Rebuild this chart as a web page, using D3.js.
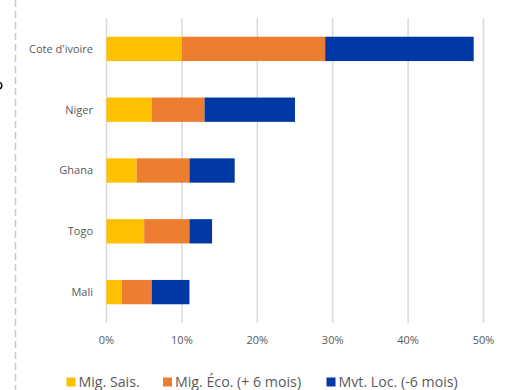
<!DOCTYPE html>
<html><head><meta charset="utf-8">
<script src="https://cdn.jsdelivr.net/npm/d3@7"></script>
<style>body{margin:0;background:#fff;} svg{display:block;font-family:"Open Sans",sans-serif;}</style>
</head><body><svg id="c" width="513" height="390"></svg>
<script>
const categories = ["Cote d'ivoire","Niger","Ghana","Togo","Mali"];
const seriesNames = ["Mig. Sais.","Mig. Éco. (+ 6 mois)","Mvt. Loc. (-6 mois)"];
const migSais = [10, 6, 4, 5, 2];
const migEco = [19, 7, 7, 6, 4];
const mvtLoc = [19.7, 12, 6, 3, 5];
const tickValues = [0, 0.1, 0.2, 0.3, 0.4, 0.5];
const colors = ["#FFC000","#ED7D31","#0039A6"];

const svg = d3.select("#c");
const x = d3.scaleLinear().domain([0, 50]).range([106.5, 483.5]);
const y = d3.scaleBand().domain(categories).range([18.5, 322.5]).paddingInner(0.6).paddingOuter(0.3);

// left dashed border
svg.append("line").attr("x1",15.5).attr("x2",15.5).attr("y1",0).attr("y2",390)
  .attr("stroke","#c8c8c8").attr("stroke-width",1.5).attr("stroke-dasharray","7,4");
// fragment of a cut-off glyph at the left edge
svg.append("ellipse").attr("cx",-1).attr("cy",85.5).attr("rx",2.8).attr("ry",3.2)
  .attr("fill","none").attr("stroke","#000").attr("stroke-width",1.4);

// gridlines
svg.append("g").selectAll("line").data(tickValues).join("line")
  .attr("x1",d=>x(d*100)).attr("x2",d=>x(d*100)).attr("y1",18).attr("y2",323)
  .attr("stroke","#d9d9d9").attr("stroke-width",1.5);

// bars
const data = categories.map((c,i)=>({cat:c, v:[migSais[i], migEco[i], mvtLoc[i]]}));
const stack = d3.stack().keys([0,1,2]).value((d,k)=>d.v[k])(data);
svg.append("g").selectAll("g").data(stack).join("g").attr("fill",(d,i)=>colors[i])
  .selectAll("rect").data(d=>d).join("rect")
  .attr("x",d=>x(d[0])).attr("width",d=>x(d[1])-x(d[0]))
  .attr("y",d=>y(d.data.cat)).attr("height",y.bandwidth());

// category labels
svg.append("g").selectAll("text").data(categories).join("text")
  .attr("x",93).attr("y",d=>y(d)+y.bandwidth()/2).attr("dy","0.35em")
  .attr("text-anchor","end").attr("font-size",11).attr("fill","#595959").text(d=>d);

// x tick labels
svg.append("g").selectAll("text").data(tickValues).join("text")
  .attr("x",d=>x(d*100)).attr("y",340).attr("dy","0.35em").attr("text-anchor","middle")
  .attr("font-size",11).attr("fill","#595959").text(d=>d3.format(".0%")(d));

// legend
const lx = [66.5, 163, 326.5];
const lg = svg.append("g").selectAll("g").data(seriesNames).join("g")
  .attr("transform",(d,i)=>`translate(${lx[i]},382)`);
lg.append("rect").attr("x",0).attr("y",-4.5).attr("width",9).attr("height",9).attr("fill",(d,i)=>colors[i]);
lg.append("text").attr("x",12).attr("y",0).attr("dy","0.35em").attr("font-size",14.2).attr("fill","#595959").text(d=>d);
</script></body></html>
